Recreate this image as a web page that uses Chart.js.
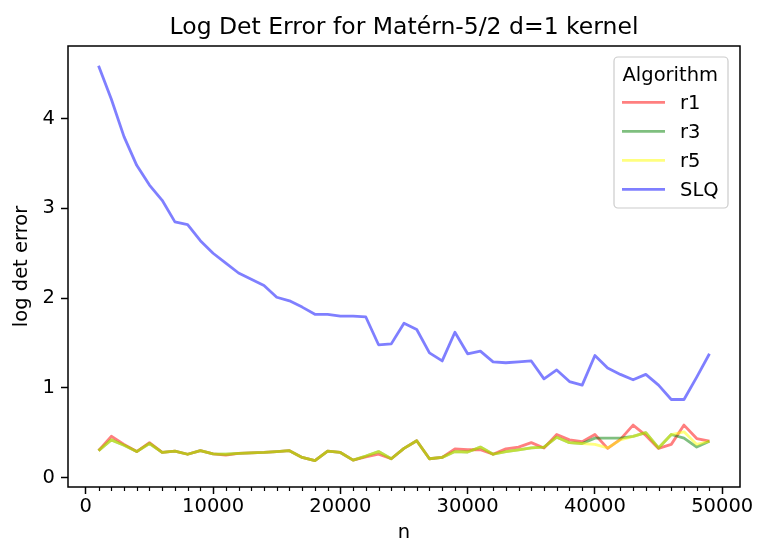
<!DOCTYPE html>
<html>
<head>
<meta charset="utf-8">
<script src="https://cdn.jsdelivr.net/npm/chart.js@4"></script>
<style>
    body { margin: 0; background: #fff; }
    canvas { display: block; }
</style>
</head>
<body>
<canvas id="chart" width="766" height="556"></canvas>
<script>
const nValues = [1000, 2000, 3000, 4000, 5000, 6000, 7000, 8000, 9000, 10000,
    11000, 12000, 13000, 14000, 15000, 16000, 17000, 18000, 19000, 20000,
    21000, 22000, 23000, 24000, 25000, 26000, 27000, 28000, 29000, 30000,
    31000, 32000, 33000, 34000, 35000, 36000, 37000, 38000, 39000, 40000,
    41000, 42000, 43000, 44000, 45000, 46000, 47000, 48000, 49000];

const r1 = [0.30, 0.46, 0.37, 0.29, 0.39, 0.28, 0.295, 0.26, 0.30, 0.265,
    0.25, 0.27, 0.275, 0.28, 0.29, 0.30, 0.225, 0.19, 0.295, 0.28,
    0.195, 0.23, 0.26, 0.21, 0.325, 0.41, 0.21, 0.225, 0.32, 0.31,
    0.31, 0.26, 0.32, 0.34, 0.39, 0.33, 0.48, 0.42, 0.40, 0.48,
    0.325, 0.425, 0.585, 0.47, 0.325, 0.37, 0.585, 0.435, 0.405];

const r3 = [0.30, 0.42, 0.36, 0.29, 0.38, 0.28, 0.295, 0.26, 0.30, 0.265,
    0.26, 0.27, 0.275, 0.28, 0.29, 0.30, 0.225, 0.19, 0.295, 0.28,
    0.195, 0.24, 0.29, 0.21, 0.325, 0.41, 0.21, 0.225, 0.29, 0.285,
    0.34, 0.26, 0.29, 0.31, 0.33, 0.34, 0.45, 0.39, 0.38, 0.44,
    0.44, 0.44, 0.46, 0.50, 0.33, 0.48, 0.44, 0.34, 0.405];

const r5 = [0.30, 0.42, 0.36, 0.29, 0.38, 0.28, 0.295, 0.26, 0.30, 0.265,
    0.26, 0.27, 0.275, 0.28, 0.29, 0.30, 0.225, 0.19, 0.295, 0.28,
    0.195, 0.24, 0.29, 0.21, 0.325, 0.41, 0.21, 0.225, 0.29, 0.285,
    0.34, 0.26, 0.29, 0.31, 0.33, 0.34, 0.45, 0.39, 0.38, 0.37,
    0.33, 0.42, 0.46, 0.50, 0.33, 0.48, 0.51, 0.37, 0.405];

const slq = [4.59, 4.22, 3.80, 3.48, 3.26, 3.09, 2.85, 2.82, 2.64, 2.50,
    2.39, 2.28, 2.21, 2.14, 2.01, 1.97, 1.90, 1.82, 1.82, 1.80,
    1.80, 1.79, 1.48, 1.49, 1.72, 1.65, 1.39, 1.30, 1.62, 1.38,
    1.41, 1.29, 1.28, 1.29, 1.30, 1.10, 1.20, 1.07, 1.03, 1.36,
    1.22, 1.15, 1.09, 1.15, 1.03, 0.87, 0.87, 1.12, 1.38];

const xTicks = [0, 10000, 20000, 30000, 40000, 50000];
const yTicks = [0, 1, 2, 3, 4];

const titleText = 'Log Det Error for Matérn-5/2 d=1 kernel';
const legendTitle = 'Algorithm';
const FONT = '"DejaVu Sans", sans-serif';

function toPoints(vals) {
    return vals.map((v, i) => ({ x: nValues[i], y: v }));
}

// minor ticks every 1000 on x, skipping the labelled ones
let minorTicks = [];
for (let v = 1000; v < 50000; v += 1000) {
    if (v % 10000 !== 0) minorTicks.push(v);
}

const framePlugin = {
    id: 'frame',
    afterDraw(chart) {
        const ctx = chart.ctx;
        const a = chart.chartArea;
        const xs = chart.scales.x;
        ctx.save();

        // minor ticks
        ctx.strokeStyle = '#000';
        ctx.lineWidth = 1.2;
        minorTicks.forEach(v => {
            let px = Math.round(xs.getPixelForValue(v)) + 0.5;
            ctx.beginPath();
            ctx.moveTo(px, a.bottom);
            ctx.lineTo(px, a.bottom + 4);
            ctx.stroke();
        });

        // box
        ctx.lineWidth = 1.5;
        ctx.strokeStyle = '#000';
        ctx.strokeRect(a.left, a.top, a.right - a.left, a.bottom - a.top);

        // title
        ctx.fillStyle = '#000';
        ctx.font = '23.5px ' + FONT;
        ctx.textAlign = 'center';
        ctx.textBaseline = 'alphabetic';
        ctx.fillText(titleText, (a.left + a.right) / 2, 33.5);

        // legend
        const lx = 614, ly = 57, lw = 114, lh = 151;
        ctx.beginPath();
        ctx.roundRect(lx, ly, lw, lh, 4);
        ctx.fillStyle = 'rgba(255,255,255,0.8)';
        ctx.fill();
        ctx.strokeStyle = '#cccccc';
        ctx.lineWidth = 1.2;
        ctx.stroke();

        ctx.font = '19.5px ' + FONT;
        ctx.textAlign = 'left';
        ctx.fillStyle = '#000';
        ctx.fillText(legendTitle, 622.5, 80.5);

        chart.data.datasets.forEach((ds, i) => {
            let base = 109.3 + i * 29;
            ctx.strokeStyle = ds.borderColor;
            ctx.lineWidth = ds.borderWidth;
            ctx.beginPath();
            ctx.moveTo(622, base - 7);
            ctx.lineTo(665, base - 7);
            ctx.stroke();
            ctx.fillStyle = '#000';
            ctx.fillText(ds.label, 680, base);
        });
        ctx.restore();
    }
};

const datasets = [
    { label: 'r1', data: toPoints(r1), borderColor: 'rgba(255,0,0,0.5)', order: 4 },
    { label: 'r3', data: toPoints(r3), borderColor: 'rgba(0,128,0,0.5)', order: 3 },
    { label: 'r5', data: toPoints(r5), borderColor: 'rgba(255,255,0,0.5)', order: 2 },
    { label: 'SLQ', data: toPoints(slq), borderColor: 'rgba(0,0,255,0.5)', order: 1 }
];
datasets.forEach(ds => {
    ds.borderWidth = 2.8;
    ds.pointRadius = 0;
    ds.tension = 0;
    ds.fill = false;
    ds.borderJoinStyle = 'round';
});

const config = {
    type: 'line',
    data: { datasets: datasets },
    options: {
        responsive: false,
        animation: false,
        layout: { padding: { top: 46, right: 26, left: 0, bottom: 0 } },
        plugins: {
            legend: { display: false },
            title: { display: false },
            tooltip: { enabled: false }
        },
        scales: {
            x: {
                type: 'linear',
                min: -1400,
                max: 51400,
                afterBuildTicks: scale => { scale.ticks = xTicks.map(v => ({ value: v })); },
                afterFit: scale => { scale.height = 69; },
                border: { display: false },
                grid: { drawOnChartArea: false, tickLength: 7, tickWidth: 1.5, tickColor: '#000' },
                ticks: {
                    color: '#000',
                    padding: 1,
                    maxRotation: 0,
                    font: { family: FONT, size: 19.5 },
                    callback: v => String(v)
                },
                title: {
                    display: true,
                    text: 'n',
                    color: '#000',
                    font: { family: FONT, size: 19.5 },
                    padding: { top: 0, bottom: 11 }
                }
            },
            y: {
                min: -0.105,
                max: 4.81,
                afterBuildTicks: scale => { scale.ticks = yTicks.map(v => ({ value: v })); },
                afterFit: scale => { scale.width = 68; },
                border: { display: false },
                grid: { drawOnChartArea: false, tickLength: 7, tickWidth: 1.5, tickColor: '#000' },
                ticks: {
                    color: '#000',
                    padding: 6,
                    font: { family: FONT, size: 19.5 },
                    callback: v => String(v)
                },
                title: {
                    display: true,
                    text: 'log det error',
                    color: '#000',
                    font: { family: FONT, size: 19.5 },
                    padding: { top: 10, bottom: 10 }
                }
            }
        }
    },
    plugins: [framePlugin]
};

new Chart(document.getElementById('chart').getContext('2d'), config);
</script>
</body>
</html>
